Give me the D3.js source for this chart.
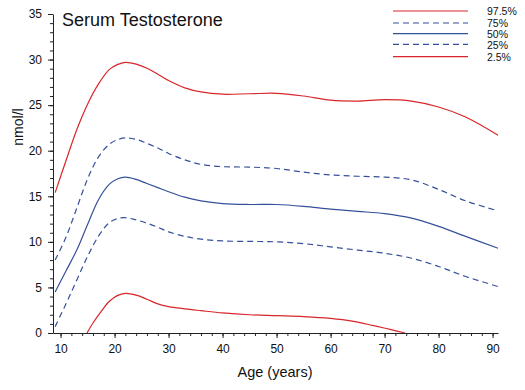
<!DOCTYPE html>
<html>
<head>
<meta charset="utf-8">
<script src="https://cdn.jsdelivr.net/npm/d3@7"></script>
<style>
  html, body { margin: 0; padding: 0; background: #fff; }
  svg { display: block; font-family: "Liberation Sans", Arial, Helvetica, sans-serif; }
</style>
</head>
<body>
<svg id="chart" width="525" height="390"></svg>
<script>
// ---- data ----
const ages = [9, 11, 13, 15, 17, 19, 20.5, 22, 24, 26, 28, 30, 33, 36, 40, 45, 50, 55, 60, 65, 70, 75, 80, 85, 91];
const p975 = [15.4, 18.9, 22.3, 25.1, 27.3, 28.9, 29.45, 29.7, 29.5, 29.05, 28.4, 27.7, 26.9, 26.45, 26.2, 26.25, 26.3, 26.0, 25.55, 25.45, 25.6, 25.45, 24.8, 23.7, 21.7];
const p75  = [8.0, 10.5, 13.7, 16.9, 19.3, 20.7, 21.2, 21.4, 21.25, 20.8, 20.3, 19.7, 19.0, 18.5, 18.25, 18.2, 18.05, 17.65, 17.35, 17.2, 17.1, 16.8, 15.75, 14.5, 13.4];
const p50  = [4.5, 6.8, 9.1, 11.9, 14.6, 16.3, 16.9, 17.1, 16.85, 16.4, 15.95, 15.5, 14.9, 14.5, 14.2, 14.1, 14.1, 13.9, 13.6, 13.35, 13.1, 12.6, 11.7, 10.6, 9.3];
const p25  = [0.7, 3.2, 5.8, 8.4, 10.6, 12.1, 12.55, 12.65, 12.4, 12.05, 11.6, 11.1, 10.6, 10.3, 10.1, 10.05, 10.0, 9.8, 9.45, 9.1, 8.75, 8.2, 7.3, 6.2, 5.1];
const ages025 = [14.9, 16, 17.5, 19, 20.5, 22, 24, 26, 28, 30, 33, 36, 40, 45, 50, 55, 60, 64, 68, 71, 73.8];
const p025 = [0, 1.1, 2.35, 3.45, 4.1, 4.35, 4.15, 3.7, 3.2, 2.9, 2.65, 2.45, 2.2, 2.0, 1.9, 1.8, 1.6, 1.3, 0.8, 0.4, 0];

const xTicks = [10, 20, 30, 40, 50, 60, 70, 80, 90];
const yTicks = [0, 5, 10, 15, 20, 25, 30, 35];
const legendLabels = ["97.5%", "75%", "50%", "25%", "2.5%"];

const RED = "#d8262b", BLUE = "#35519a";
const series = [
  { label: legendLabels[0], x: ages, y: p975, color: RED, dash: null },
  { label: legendLabels[1], x: ages, y: p75, color: BLUE, dash: "6,4" },
  { label: legendLabels[2], x: ages, y: p50, color: BLUE, dash: null },
  { label: legendLabels[3], x: ages, y: p25, color: BLUE, dash: "6,4" },
  { label: legendLabels[4], x: ages025, y: p025, color: RED, dash: null }
];

// ---- layout ----
const svg = d3.select("#chart");
const x = d3.scaleLinear().domain([8.6, 91]).range([53, 498]);
const y = d3.scaleLinear().domain([0, 35]).range([333, 14]);

svg.append("defs").append("clipPath").attr("id", "clip")
  .append("rect").attr("x", 53).attr("y", 10).attr("width", 450).attr("height", 323);

// axes
const xMinor = d3.range(10, 91, 2);
const yMinor = d3.range(0, 36, 1);

const gx = svg.append("g").attr("transform", `translate(0,${y(0)})`);
gx.call(d3.axisBottom(x).tickValues(xMinor).tickSize(3).tickFormat(""));
gx.call(g => g.select(".domain").remove());
const gx2 = svg.append("g").attr("transform", `translate(0,${y(0)})`);
gx2.call(d3.axisBottom(x).tickValues(xTicks).tickSize(5).tickSizeOuter(0).tickPadding(6).tickFormat(d3.format("d")));
gx2.selectAll("text").attr("font-size", 12).attr("fill", "#111").attr("font-family", "Liberation Sans, Arial, sans-serif");

const gy = svg.append("g").attr("transform", `translate(${x.range()[0]},0)`);
gy.call(d3.axisLeft(y).tickValues(yMinor).tickSize(3).tickFormat(""));
gy.call(g => g.select(".domain").remove());
const gy2 = svg.append("g").attr("transform", `translate(${x.range()[0]},0)`);
gy2.call(d3.axisLeft(y).tickValues(yTicks).tickSize(5).tickSizeOuter(0).tickPadding(6).tickFormat(d3.format("d")));
gy2.selectAll("text").attr("font-size", 12).attr("fill", "#111").attr("font-family", "Liberation Sans, Arial, sans-serif");

svg.selectAll(".tick line").attr("stroke", "#222");
svg.selectAll(".domain").attr("stroke", "#222");

// lines
const line = d3.line().curve(d3.curveCatmullRom.alpha(0.5));
const plot = svg.append("g").attr("clip-path", "url(#clip)");
series.forEach(s => {
  const pts = s.x.map((a, i) => [x(a), y(s.y[i])]);
  plot.append("path")
    .attr("d", line(pts))
    .attr("fill", "none")
    .attr("stroke", s.color)
    .attr("stroke-width", 1.2)
    .attr("stroke-dasharray", s.dash);
});

// title
svg.append("text").attr("x", 62).attr("y", 26)
  .attr("font-size", 18).attr("fill", "#111").text("Serum Testosterone");

// axis titles
svg.append("text").attr("x", 275).attr("y", 377).attr("text-anchor", "middle")
  .attr("font-size", 14.5).attr("fill", "#111").text("Age (years)");
svg.append("text").attr("transform", "translate(23,127) rotate(-90)").attr("text-anchor", "middle")
  .attr("font-size", 14).attr("fill", "#111").text("nmol/l");

// legend
const legY = [11, 23, 33.7, 44.3, 56.7];
const leg = svg.append("g");
series.forEach((s, i) => {
  leg.append("line").attr("x1", 393).attr("x2", 468).attr("y1", legY[i]).attr("y2", legY[i])
    .attr("stroke", s.color).attr("stroke-width", 1.2).attr("stroke-dasharray", s.dash);
  leg.append("text").attr("x", 487).attr("y", legY[i] + 1.5).attr("dominant-baseline", "middle")
    .attr("font-size", 10.5).attr("fill", "#111").text(s.label);
});
</script>
</body>
</html>
